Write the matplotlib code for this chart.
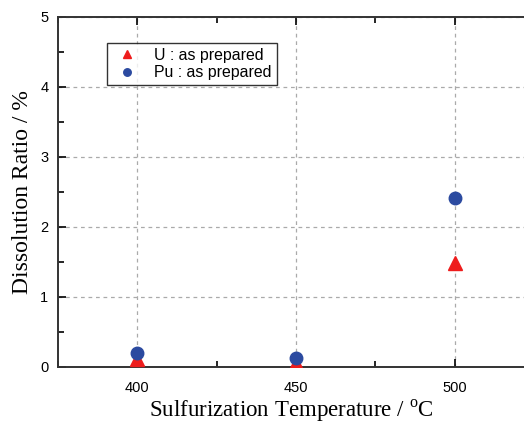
import matplotlib
matplotlib.use("Agg")
from matplotlib import pyplot as plt
from matplotlib.ticker import MultipleLocator

plt.rcParams['mathtext.fontset'] = 'custom'
plt.rcParams['mathtext.rm'] = 'Liberation Serif'

# data
temps = [400, 450, 500]
u_ratio = [0.12, 0.06, 1.48]
pu_ratio = [0.20, 0.13, 2.41]

fig = plt.figure(figsize=(5.24, 4.24), dpi=100)
ax = fig.add_axes([58/524, 1 - 367/424, 1 - 58/524, 350/424])

ax.plot(temps, u_ratio, linestyle='none', marker='^', markersize=10,
        color='#ee1c1c', label='U : as prepared', zorder=3)
ax.plot(temps, pu_ratio, linestyle='none', marker='o', markersize=9,
        color='#2b4aa0', label='Pu : as prepared', zorder=4)

ax.set_xlim(375, 521.8)
ax.set_ylim(0, 5)
ax.xaxis.set_major_locator(MultipleLocator(50))
ax.xaxis.set_minor_locator(MultipleLocator(25))
ax.yaxis.set_major_locator(MultipleLocator(1))
ax.yaxis.set_minor_locator(MultipleLocator(0.5))
ax.tick_params(which='both', direction='in', top=True, right=False,
               labelsize=10.5, colors='black', width=1.2)
ax.tick_params(which='major', length=6)
ax.tick_params(which='minor', length=4)
for lab in ax.get_xticklabels() + ax.get_yticklabels():
    lab.set_family('Liberation Sans')
ax.tick_params(axis='x', pad=10)
ax.tick_params(axis='y', pad=7)
ax.grid(True, which='major', linestyle=(0, (3, 3)), color='#aaaaaa', linewidth=0.9)
ax.set_axisbelow(True)

ax.spines['right'].set_visible(False)
for s in ['left', 'top', 'bottom']:
    ax.spines[s].set_linewidth(1.4)
    ax.spines[s].set_color('#333333')

ax.set_xlabel('Sulfurization Temperature / $^{\\rm o}$C', family='Liberation Serif',
              fontsize=16.5, labelpad=2)
ax.set_ylabel('Dissolution Ratio / %', family='Liberation Serif', fontsize=17, labelpad=5)

leg = ax.legend(loc='upper left', bbox_to_anchor=(0.105, 0.925), frameon=True,
                fancybox=False, edgecolor='black', prop={'family': 'Liberation Sans', 'size': 11.4},
                markerscale=0.6, handlelength=1.9, borderpad=0.3, labelspacing=0.15,
                handletextpad=0.8, borderaxespad=0)
leg.get_frame().set_linewidth(1.0)

plt.savefig('out.png', dpi=100)
